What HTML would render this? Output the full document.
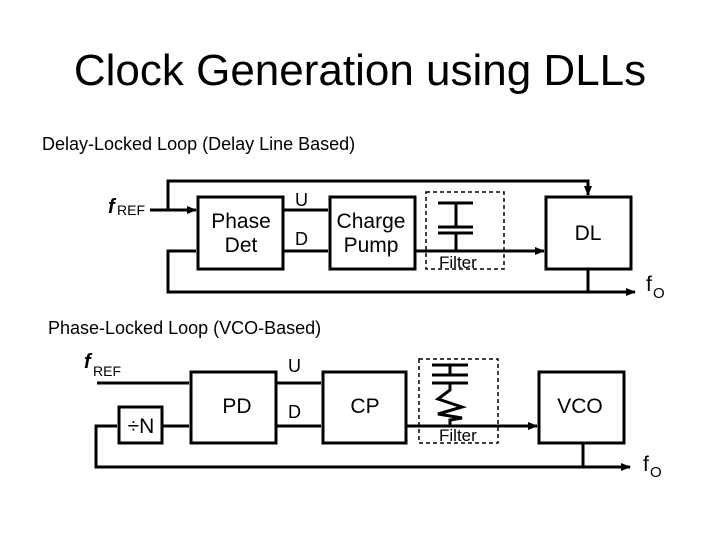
<!DOCTYPE html>
<html><head><style>body{margin:0;background:#fff}svg{display:block}</style></head><body>
<svg width="720" height="540" xmlns="http://www.w3.org/2000/svg" font-family="Liberation Sans, sans-serif">
<defs><marker id="a" markerWidth="10" markerHeight="10" refX="9" refY="5" orient="auto" markerUnits="userSpaceOnUse"><path d="M0,1 L10,5 L0,9z" fill="#000"/></marker></defs>
<text x="360" y="85" font-size="44" text-anchor="middle">Clock Generation using DLLs</text>
<text x="42" y="150" font-size="18">Delay-Locked Loop (Delay Line Based)</text>
<text x="48" y="334" font-size="18">Phase-Locked Loop (VCO-Based)</text>
<g fill="none" stroke="#000" stroke-width="3">
<rect x="198" y="197" width="85" height="72"/>
<rect x="330" y="197" width="85" height="72"/>
<rect x="546" y="197" width="85" height="72"/>
<rect x="426" y="192" width="78" height="77" stroke-width="1.5" stroke-dasharray="4,3"/>
<path d="M150 210H196" marker-end="url(#a)"/>
<path d="M168 210V181H588V195" marker-end="url(#a)"/>
<path d="M283 210H328M283 251H328M415 251H544" marker-end="url(#a)"/>
<path d="M588 269V292"/>
<path d="M196 251H168V292H635" marker-end="url(#a)"/>
<path d="M438 203H473M438 227H473M438 233H473M456 203V227M456 233V251"/>
<rect x="191" y="372" width="85" height="71"/>
<rect x="119" y="407" width="43" height="36"/>
<rect x="323" y="372" width="83" height="71"/>
<rect x="539" y="372" width="85" height="71"/>
<rect x="419" y="359" width="79" height="84" stroke-width="1.5" stroke-dasharray="4,3"/>
<path d="M97 383H189M162 426H189M276 383H321M276 426H321M406 426H537" marker-end="url(#a)"/>
<path d="M117 426H96V467H630" marker-end="url(#a)"/>
<path d="M583 443V467"/>
<path d="M432 365H468M432 375H468M432 383H468M450 365V375M450 383V390L438 399L462 407L438 414L462 418L450 420V426"/>
</g>
<g font-size="21">
<text x="108" y="213" font-style="italic" font-weight="bold" font-size="20">f</text><text x="117" y="215" font-size="14">REF</text>
<text x="241" y="228" text-anchor="middle">Phase</text><text x="241" y="252" text-anchor="middle">Det</text>
<text x="371" y="228" text-anchor="middle">Charge</text><text x="371" y="252" text-anchor="middle">Pump</text>
<text x="588" y="240" text-anchor="middle">DL</text>
<text x="295" y="206" font-size="18">U</text><text x="295" y="245" font-size="18">D</text>
<text x="439" y="268" font-size="17">Filter</text>
<text x="646" y="291">f</text><text x="653" y="298" font-size="15">O</text>
<text x="84" y="368" font-style="italic" font-weight="bold" font-size="20">f</text><text x="93" y="376" font-size="14">REF</text>
<text x="141" y="433" text-anchor="middle">÷N</text>
<text x="237" y="413" text-anchor="middle">PD</text>
<text x="365" y="413" text-anchor="middle">CP</text>
<text x="580" y="413" text-anchor="middle">VCO</text>
<text x="288" y="372" font-size="18">U</text><text x="288" y="418" font-size="18">D</text>
<text x="439" y="441" font-size="17">Filter</text>
<text x="643" y="471">f</text><text x="650" y="477" font-size="15">O</text>
</g>
</svg>
</body></html>
